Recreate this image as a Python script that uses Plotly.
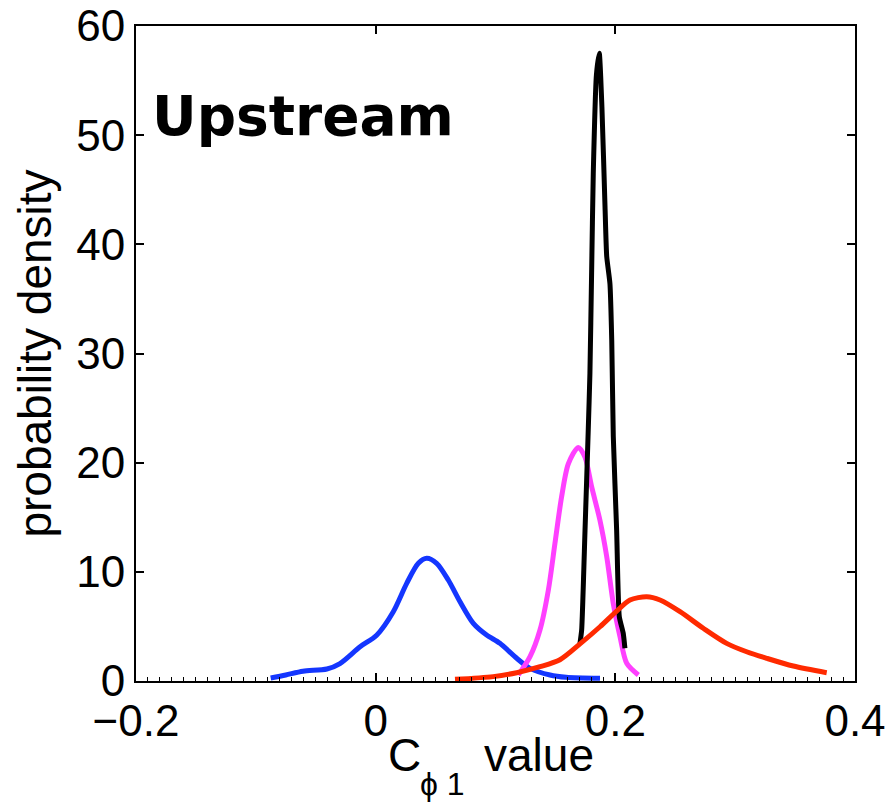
import plotly.graph_objects as go

# ---- data ----
blue_x = [-0.0876, -0.075, -0.0607, -0.0407, -0.0298, -0.013, 0.0008, 0.0147, 0.0259, 0.0356, 0.0426,
          0.0509, 0.0606, 0.0704, 0.0815, 0.0926, 0.1037, 0.1177, 0.1288, 0.1455, 0.159, 0.1872]
blue_y = [0.27, 0.55, 0.9, 1.1, 1.6, 3.14, 4.2, 6.35, 8.95, 10.78, 11.24,
          10.78, 9.25, 7.26, 5.28, 4.21, 3.45, 2.08, 1.16, 0.55, 0.34, 0.25]

magenta_x = [0.119, 0.1288, 0.1371, 0.1441, 0.1496, 0.1552, 0.1608, 0.1691, 0.1747, 0.1802,
             0.1872, 0.1928, 0.1983, 0.2039, 0.2095, 0.2192]
magenta_y = [0.55, 2.23, 4.67, 8.33, 12.6, 16.9, 19.9, 21.4, 20.5, 17.8,
             14.7, 11.4, 7.1, 4.06, 1.62, 0.55]

black_x = [0.1705, 0.1719, 0.1747, 0.1774, 0.1788, 0.1802, 0.1816, 0.1842, 0.1866, 0.1888,
           0.1914, 0.1928, 0.1955, 0.197, 0.1983, 0.2011, 0.2033, 0.2066, 0.208]
black_y = [3.45, 4.67, 13.8, 23.0, 28.2, 37.4, 46.5, 55.5, 57.5, 52.6,
           43.4, 38.9, 36.4, 31.2, 22.4, 13.8, 5.9, 4.37, 3.0]

red_x = [0.0662, 0.0981, 0.1177, 0.1371, 0.1538, 0.1705, 0.1872, 0.2011, 0.2122, 0.2262,
         0.2373, 0.254, 0.2734, 0.2929, 0.3096, 0.3263, 0.3485, 0.3764]
red_y = [0.15, 0.4, 0.76, 1.31, 1.95, 3.4, 4.97, 6.4, 7.42, 7.72,
         7.42, 6.35, 4.83, 3.45, 2.68, 2.08, 1.37, 0.76]

x_ticks = [-0.2, 0, 0.2, 0.4]
y_ticks = [0, 10, 20, 30, 40, 50, 60]

FONT = "Liberation Sans, Arial, Helvetica, sans-serif"

fig = go.Figure()
series = [
    (blue_x, blue_y, "#1436ff", 0.8),
    (magenta_x, magenta_y, "#ff40ff", 0.8),
    (black_x, black_y, "#000000", 0.5),
    (red_x, red_y, "#ff2a00", 0.8),
]
for xs, ys, col, sm in series:
    fig.add_trace(go.Scatter(x=xs, y=ys, mode="lines",
                             line=dict(color=col, width=5, shape="spline", smoothing=sm),
                             showlegend=False, hoverinfo="skip"))

# invisible trace for the top axis (major ticks only)
fig.add_trace(go.Scatter(x=[-0.2], y=[0], xaxis="x2", mode="markers",
                         marker=dict(opacity=0), showlegend=False, hoverinfo="skip"))

fig.update_layout(
    width=891, height=808,
    margin=dict(l=136, r=36, t=26, b=127),
    paper_bgcolor="white", plot_bgcolor="white",
    font=dict(family=FONT, size=44, color="black"),
    xaxis=dict(
        range=[-0.2, 0.4], tickvals=x_ticks, ticks="inside", ticklen=8, tickwidth=1.5,
        tickcolor="black", showline=True, linecolor="black", linewidth=2, mirror=True,
        showgrid=False, zeroline=False, automargin=False,
        minor=dict(dtick=0.01, tick0=-0.2, ticks="inside", ticklen=4, tickwidth=1.2,
                   tickcolor="black", showgrid=False),
        tickfont=dict(size=44),
    ),
    xaxis2=dict(
        range=[-0.2, 0.4], overlaying="x", side="top", tickvals=x_ticks, ticks="inside",
        ticklen=8, tickwidth=1.5, tickcolor="black", showticklabels=False,
        showgrid=False, zeroline=False, showline=False, automargin=False,
    ),
    yaxis=dict(
        range=[0, 60], tickvals=y_ticks, ticks="inside", ticklen=8, tickwidth=1.5,
        tickcolor="black", showline=True, linecolor="black", linewidth=2, mirror="ticks",
        showgrid=False, zeroline=False, tickfont=dict(size=44), automargin=False,
        title=dict(text="probability density", font=dict(size=46), standoff=10),
    ),
    annotations=[
        dict(x=-0.188, y=51.75, xref="x", yref="y", xanchor="left", yanchor="middle",
             text="<b>Upstream</b>", showarrow=False,
             font=dict(family="DejaVu Sans", size=55, color="black")),
        # x-axis title: C, subscript "ϕ 1", value
        dict(x=(386 - 136) / 719, y=(681 - 775) / 655, xref="paper", yref="paper",
             xanchor="left", yanchor="bottom", yshift=-8, text="C", showarrow=False,
             font=dict(family=FONT, size=46, color="black")),
        dict(x=(418 - 136) / 719, y=(681 - 800) / 655, xref="paper", yref="paper",
             xanchor="left", yanchor="bottom", yshift=-4, text="ϕ 1", showarrow=False,
             font=dict(family=FONT, size=32, color="black")),
        dict(x=(482 - 136) / 719, y=(681 - 775) / 655, xref="paper", yref="paper",
             xanchor="left", yanchor="bottom", yshift=-8, text="value", showarrow=False,
             font=dict(family=FONT, size=46, color="black")),
    ],
)

fig.write_html("out.html")
